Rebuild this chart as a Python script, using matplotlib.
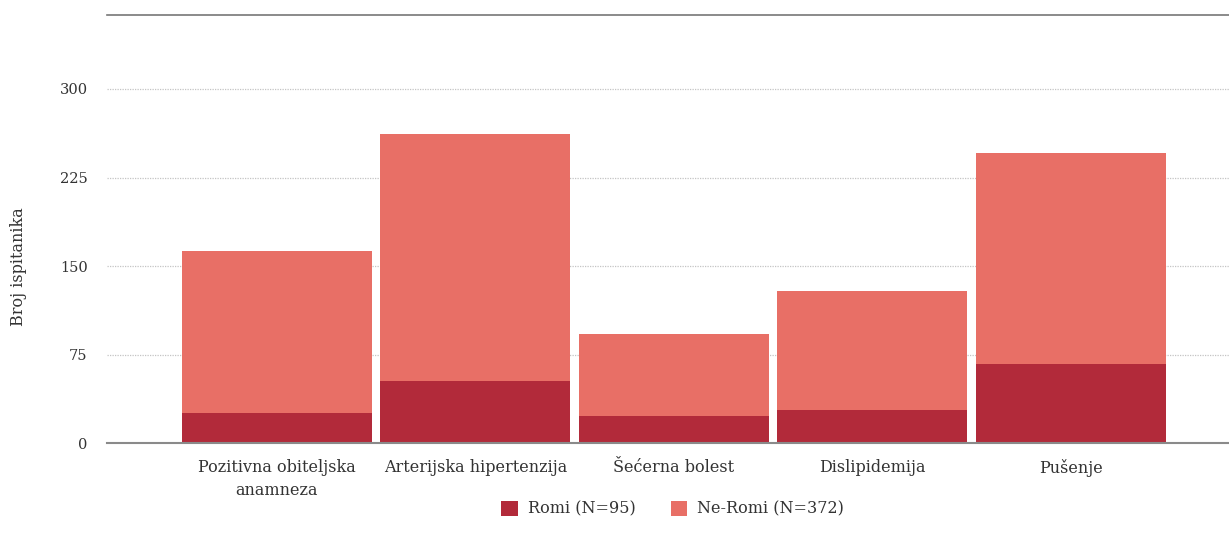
import numpy as np
import matplotlib.pyplot as plt

# Data
categories = ["Pozitivna obiteljska\nanamneza", "Arterijska hipertenzija", "Šećerna bolest",
              "Dislipidemija", "Pušenje"]
romi = [26, 53, 23, 28, 67]
ne_romi = [137, 209, 70, 101, 179]
series_labels = ["Romi (N=95)", "Ne-Romi (N=372)"]
y_ticks = [0, 75, 150, 225, 300]

plt.rcParams['font.family'] = ['DejaVu Serif']

fig = plt.figure(figsize=(12.29, 5.36), dpi=100)
ax = fig.add_axes([0.0871, 0.1726, 0.9129, 0.7994])

x = np.arange(len(categories))
bar_width = 0.957
dark = "#B22A3A"
light = "#E86F66"

ax.bar(x, romi, width=bar_width, color=dark, label=series_labels[0], zorder=2)
ax.bar(x, ne_romi, width=bar_width, bottom=romi, color=light, label=series_labels[1], zorder=2)

ax.set_xlim(-0.856, 4.796)
ax.set_ylim(0, 362.6)
ax.set_yticks(y_ticks)
ax.set_yticklabels([str(v) for v in y_ticks], fontsize=10.5, color="#333333")
ax.set_xticks(x)
ax.set_xticklabels(categories, fontsize=11.5, color="#333333", linespacing=1.5)
ax.tick_params(axis="y", length=0, pad=14)
ax.tick_params(axis="x", length=0, pad=11)

ax.yaxis.grid(True, linestyle=(0, (1, 1)), color="#c4c4c4", linewidth=0.9, zorder=0)
ax.set_axisbelow(True)

for side in ["left", "right"]:
    ax.spines[side].set_visible(False)
ax.spines["bottom"].set_color("#8a8a8a")
ax.spines["bottom"].set_linewidth(1.5)
ax.spines["bottom"].set_zorder(3)
ax.spines["top"].set_color("#777777")
ax.spines["top"].set_linewidth(1.2)

fig.text(0.015, 0.502, "Broj ispitanika", rotation=90, fontsize=11.5, color="#333333",
         ha="center", va="center")

ax.legend(loc="upper center", bbox_to_anchor=(0.504, -0.10), ncol=2, frameon=False,
          fontsize=11.5, handlelength=1.05, handleheight=1.1, columnspacing=2.2,
          handletextpad=0.6, labelcolor="#333333")

fig.savefig("out.png", dpi=100)
